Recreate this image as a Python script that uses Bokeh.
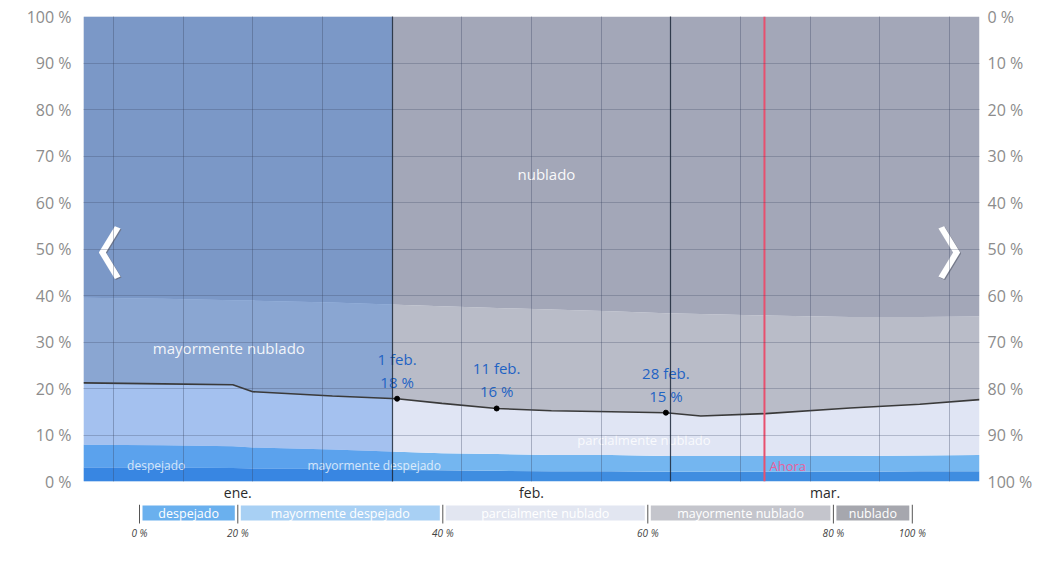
import numpy as np
from bokeh.plotting import figure
from bokeh.models import Range1d, LinearAxis, FixedTicker, Grid, Span, Label
from bokeh.layouts import column
from bokeh.embed import file_html
from bokeh.resources import INLINE
from bokeh.core.properties import value

# ---------------- data ----------------
# day of year (0 = 1 ene.)
days = [0, 8, 15, 17, 25, 31.5, 36, 41.5, 47, 53, 58.5, 62, 68.5, 77, 84, 90]
# % of time in each category (despejado, mayormente despejado)
clear = [3.0, 3.0, 2.9, 2.8, 2.7, 2.5, 2.4, 2.3, 2.2, 2.2, 2.1, 2.1, 2.1, 2.1, 2.2, 2.2]
mostly_clear = [4.9, 4.8, 4.7, 4.5, 4.2, 3.9, 3.7, 3.6, 3.5, 3.5, 3.4, 3.4, 3.4, 3.4, 3.4, 3.5]
# % of time partly cloudy or clearer (black line)
partly_or_clearer = [21.2, 21.0, 20.8, 19.3, 18.4, 17.8, 16.8, 15.7, 15.2, 15.0, 14.8, 14.1, 14.6, 15.8, 16.6, 17.6]
# % of time overcast (nublado)
overcast = [60.5, 60.7, 61.0, 61.1, 61.5, 62.0, 62.3, 62.7, 63.0, 63.4, 63.8, 64.0, 64.3, 64.6, 64.6, 64.5]

month_names = ["ene.", "feb.", "mar."]
month_starts = [0, 31, 59]
month_ends = [31, 59, 90]
highlight_month = 0

now_day = 68.4
now_label = "Ahora"

ann_dates = ["1 feb.", "11 feb.", "28 feb."]
ann_days = [31.5, 41.5, 58.5]
ann_vals = [17.8, 15.7, 14.8]

categories = ["despejado", "mayormente despejado", "parcialmente nublado",
              "mayormente nublado", "nublado"]
legend_ticks = ["0 %", "20 %", "40 %", "60 %", "80 %", "100 %"]
y_ticks = list(range(0, 101, 10))
week_lines = [3, 10, 17, 24, 38, 45, 52, 66, 73, 80, 87]

# ---------------- styles ----------------
band_colors = ["#3f8de0", "#74b6f0", "#e0e5f4", "#b9bcc8", "#a3a7b8"]
legend_colors = ["#6ab0ee", "#a8d0f4", "#e2e6f1", "#c4c5cc", "#a6a7ae"]
band_label_x = [7.3, 29.2, 56.3, 14.6, 46.5]
band_label_y = [3.4, 3.4, 9.0, 28.7, 66.2]
band_label_size = ["12px", "12px", "13px", "15px", "15px"]
band_label_alpha = [0.75, 0.75, 0.8, 0.9, 0.95]
FONT = "Open Sans"

# ---------------- derived boundaries ----------------
c = np.array(clear)
mc = c + np.array(mostly_clear)
pc = np.array(partly_or_clearer)
ov = 100 - np.array(overcast)
hund = np.full(len(days), 100.0)
lows = [np.zeros(len(days)), c, mc, pc, ov]
highs = [c, mc, pc, ov, hund]

BL, BR, BT, BB = 83, 63, 16, 21
FW, FH = 896, 467
W = BL + FW + BR
p = figure(width=W, height=BT + FH + BB, x_range=Range1d(0, 90), y_range=Range1d(0, 100),
           output_backend="svg", toolbar_location=None,
           min_border_left=BL, min_border_right=BR, min_border_top=BT, min_border_bottom=BB)
p.outline_line_color = None
p.background_fill_color = "white"
p.grid.visible = False

for lo, hi, col in zip(lows, highs, band_colors):
    p.varea(x=days, y1=lo, y2=hi, fill_color=col, fill_alpha=1.0)

# highlighted month overlay
p.quad(left=[month_starts[highlight_month]], right=[month_ends[highlight_month]],
       bottom=[0], top=[100], fill_color="#2a7ae8", fill_alpha=0.33, line_color=None)

# grids drawn over the fills
p.add_layout(Grid(dimension=1, ticker=FixedTicker(ticks=y_ticks), grid_line_color="#3a4560",
                  grid_line_alpha=0.28, level="overlay"))
p.add_layout(Grid(dimension=0, ticker=FixedTicker(ticks=week_lines), grid_line_color="#3a4560",
                  grid_line_alpha=0.35, level="overlay"))
p.add_layout(Grid(dimension=0, ticker=FixedTicker(ticks=month_starts[1:]), grid_line_color="#1c2838",
                  grid_line_alpha=0.85, grid_line_width=1.2, level="overlay"))

# the line and points
p.line(days, partly_or_clearer, line_color="#3a3a3a", line_width=1.6)
p.scatter(ann_days, ann_vals, size=5, color="black")
p.text(x=ann_days, y=ann_vals,
       text=[f"{d}\n{round(v)} %" for d, v in zip(ann_dates, ann_vals)],
       text_align="center", text_baseline="bottom", y_offset=-7,
       text_color="#1f63c4", text_font_size="15px", text_font=value(FONT),
       text_line_height=1.15)

# band labels
p.text(x=band_label_x, y=band_label_y, text=categories, text_align="center",
       text_baseline="middle", text_color="white", text_font=value(FONT),
       text_font_size=band_label_size, text_alpha=band_label_alpha)

# now line
p.add_layout(Span(location=now_day, dimension="height", line_color="#e8506e", line_width=2))
p.text(x=[now_day], y=[band_label_y[0]], text=[now_label], x_offset=5, text_align="left",
       text_baseline="middle", text_color="#e8609c", text_font_size="13px", text_font=value(FONT))

# navigation chevrons (shadow + white)
for xx, ch in ((1.2, "〈"), (88.4, "〉")):
    p.add_layout(Label(x=xx, y=50, text=ch, text_align="center", text_baseline="middle",
                       x_offset=1, y_offset=-1, text_color="#6a6f80", text_alpha=0.8,
                       text_font_size="56px", text_font="Noto Sans CJK JP", text_font_style="bold"))
    p.add_layout(Label(x=xx, y=50, text=ch, text_align="center", text_baseline="middle",
                       text_color="white", text_font_size="56px", text_font="Noto Sans CJK JP",
                       text_font_style="bold"))

# month axis below
month_centers = [(a + b) / 2 for a, b in zip(month_starts, month_ends)]
p.xaxis.ticker = FixedTicker(ticks=month_centers)
p.xaxis.major_label_overrides = {m: n for m, n in zip(month_centers, month_names)}
p.xaxis.axis_line_color = None
p.xaxis.major_tick_line_color = None
p.xaxis.minor_tick_line_color = None
p.xaxis.major_tick_out = 0
p.xaxis.major_tick_in = 0
p.xaxis.major_label_standoff = 1
p.xaxis.major_label_text_color = "#2a2a2a"
p.xaxis.major_label_text_font_size = "14px"
p.xaxis.major_label_text_font = FONT

# y axes
p.yaxis.ticker = FixedTicker(ticks=y_ticks)
p.yaxis.major_label_overrides = {v: f"{v} %" for v in y_ticks}
right = LinearAxis(ticker=FixedTicker(ticks=y_ticks),
                   major_label_overrides={v: f"{100 - v} %" for v in y_ticks})
p.add_layout(right, "right")
for ax, so in ((p.yaxis[0], 12), (right, 8)):
    ax.axis_line_color = None
    ax.major_tick_line_color = None
    ax.minor_tick_line_color = None
    ax.major_tick_out = 0
    ax.major_tick_in = 0
    ax.major_label_standoff = so
    ax.major_label_text_color = "#8c8c8c"
    ax.major_label_text_font_size = "16px"
    ax.major_label_text_font = FONT

# ---------------- bottom strip: legend ----------------
LH = 40
leg = figure(width=W, height=LH, x_range=Range1d(0, FW), y_range=Range1d(LH, 0),
             output_backend="svg", toolbar_location=None,
             x_axis_location=None, y_axis_location=None,
             min_border_left=BL, min_border_right=BR, min_border_top=0, min_border_bottom=0)
leg.outline_line_color = None
leg.grid.visible = False

widths = [9.7 * len(s) + 11 for s in categories]
edges = [56.0]
for w in widths:
    edges.append(edges[-1] + w)
leg.quad(left=[e + 3 for e in edges[:-1]], right=[e - 3 for e in edges[1:]],
         top=[1] * 5, bottom=[16] * 5,
         fill_color=legend_colors, line_color=None)
leg.text(x=[(a + b) / 2 for a, b in zip(edges[:-1], edges[1:])], y=[8.5] * 5, text=categories,
         text_align="center", text_baseline="middle", text_color="white",
         text_font_size="12.5px", text_font=value(FONT))
leg.segment(x0=edges, y0=[0] * 6, x1=edges, y1=[19] * 6, line_color="#555555", line_width=1)
leg.text(x=edges, y=[21] * 6, text=legend_ticks, text_align="center", text_baseline="top",
         text_color="#444444", text_font_size="10px", text_font_style="italic",
         text_font=value(FONT))

layout = column(p, leg, spacing=0)
open("out.html", "w").write(file_html(layout, INLINE))
